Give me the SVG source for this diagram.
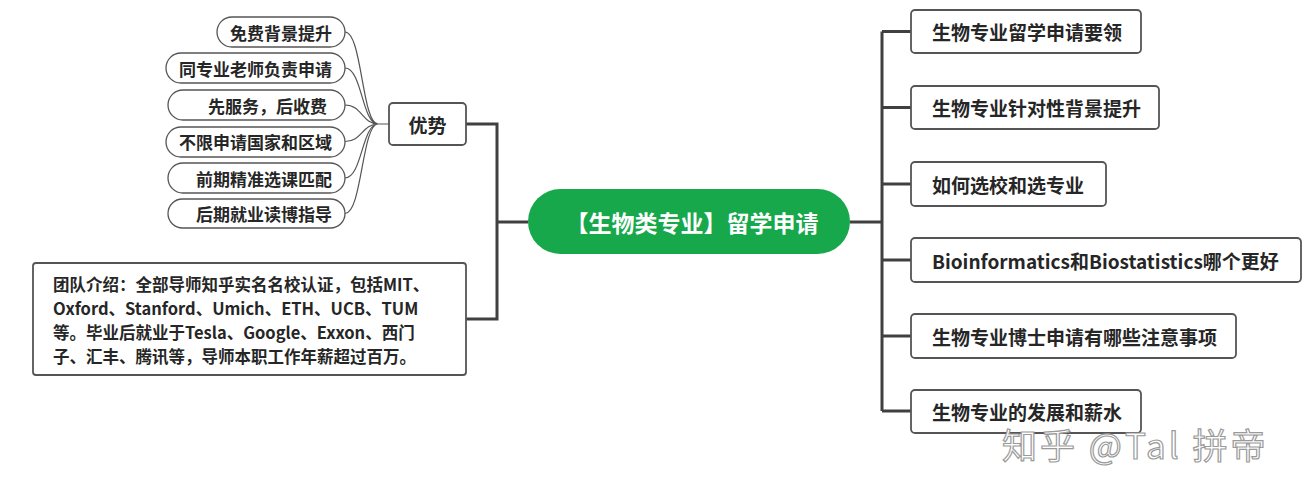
<svg xmlns="http://www.w3.org/2000/svg" width="1302" height="494" viewBox="0 0 1302 494">
<style>
text{font-family:"Noto Sans CJK SC","Microsoft YaHei","Noto Sans",sans-serif;font-weight:bold;fill:#262626;dominant-baseline:central}
.pill{fill:#fff;stroke:#555;stroke-width:1.3}
.box{fill:#fff;stroke:#555;stroke-width:1.8}
.thin{fill:none;stroke:#555;stroke-width:1.2}
.thick{fill:none;stroke:#404040;stroke-width:3}
.p{font-size:17px;text-anchor:end}
.r{font-size:19px}
.t{font-size:16.5px}
</style>
<rect width="1302" height="494" fill="#fff"/>
<g id="connectors">
<path class="thin" d="M345,32 C362,32 362,124 378,124 M345,68 C362,68 362,124 378,124 M345,105 C362,105 362,124 378,124 M345,141.5 C362,141.5 362,124 378,124 M345,178 C362,178 362,124 378,124 M345,213.5 C362,213.5 362,124 378,124 M378,124 L389,124"/>
<path class="thick" d="M466,124 H497 V319 H466 M497,222 H528"/>
<path class="thick" d="M850,222 H882 M882,31.5 V411 M882,31.5 H911 M882,107.5 H911 M882,184 H911 M882,260 H911 M882,336 H911 M882,411 H911"/>
</g>
<g id="p1"><rect class="pill" x="217" y="17" width="128" height="30" rx="15"/><text class="p" x="332" y="32">免费背景提升</text></g>
<g id="p2"><rect class="pill" x="166" y="53" width="179" height="30" rx="15"/><text class="p" x="332" y="68">同专业老师负责申请</text></g>
<g id="p3"><rect class="pill" x="168" y="90" width="177" height="30" rx="15"/><text class="p" x="327" y="105">先服务，后收费</text></g>
<g id="p4"><rect class="pill" x="166" y="127" width="179" height="30" rx="15"/><text class="p" x="332" y="141.5">不限申请国家和区域</text></g>
<g id="p5"><rect class="pill" x="168" y="163" width="177" height="30" rx="15"/><text class="p" x="332" y="178">前期精准选课匹配</text></g>
<g id="p6"><rect class="pill" x="168" y="199" width="177" height="29" rx="14.5"/><text class="p" x="332" y="213.5">后期就业读博指导</text></g>
<g id="adv"><rect class="box" x="389" y="103" width="77" height="42" rx="4"/><text x="427.5" y="124" font-size="19" text-anchor="middle">优势</text></g>
<g id="team"><rect class="box" x="33" y="263" width="433" height="112" rx="3"/>
<text class="t" x="53" y="284">团队介绍：全部导师知乎实名名校认证，包括MIT、</text>
<text class="t" x="53" y="308">Oxford、Stanford、Umich、ETH、UCB、TUM</text>
<text class="t" x="53" y="332">等。毕业后就业于Tesla、Google、Exxon、西门</text>
<text class="t" x="53" y="356">子、汇丰、腾讯等，导师本职工作年薪超过百万。</text>
</g>
<g id="center"><rect x="528" y="189" width="322" height="65" rx="32.5" fill="#16a84b"/><text x="692" y="222" font-size="23" text-anchor="middle" style="fill:#fff">【生物类专业】留学申请</text></g>
<g id="r1"><rect class="box" x="911" y="10" width="230" height="43" rx="4"/><text class="r" x="932" y="31.5">生物专业留学申请要领</text></g>
<g id="r2"><rect class="box" x="911" y="86" width="248" height="43" rx="4"/><text class="r" x="932" y="107.5">生物专业针对性背景提升</text></g>
<g id="r3"><rect class="box" x="911" y="162" width="195" height="44" rx="4"/><text class="r" x="932" y="184">如何选校和选专业</text></g>
<g id="r4"><rect class="box" x="911" y="238" width="390" height="44" rx="4"/><text class="r" x="932" y="260">Bioinformatics和Biostatistics哪个更好</text></g>
<g id="r5"><rect class="box" x="911" y="314" width="325" height="44" rx="4"/><text class="r" x="932" y="336">生物专业博士申请有哪些注意事项</text></g>
<g id="r6"><rect class="box" x="911" y="390" width="230" height="43" rx="4"/><text class="r" x="932" y="411">生物专业的发展和薪水</text></g>
<text x="1002" y="443" font-size="35" letter-spacing="3" style="font-weight:normal;fill:#fff;stroke:#9a9a9a;stroke-width:1.2">知乎 @Tal 拼帝</text>
</svg>
